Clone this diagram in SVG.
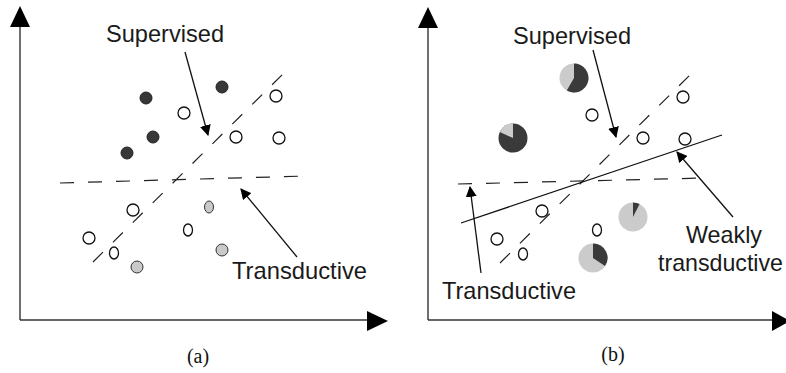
<svg xmlns="http://www.w3.org/2000/svg" width="786" height="373" viewBox="0 0 786 373">
<defs>
<style>
.axis{stroke:#333;stroke-width:1.4;fill:none}
.ah{fill:#000}
.dash{stroke:#222;stroke-width:1.2;fill:none;stroke-dasharray:14 14}
.solid{stroke:#111;stroke-width:1.3;fill:none}
.arr{stroke:#111;stroke-width:1.3;fill:none;marker-end:url(#tip)}
.open{fill:#fff;stroke:#111;stroke-width:1.3}
.dark{fill:#383838;stroke:#222;stroke-width:1}
.gray{fill:#c9c9c9;stroke:#333;stroke-width:1}
.pdark{fill:#3a3a3a}
.plight{fill:#cbcbcb}
.lbl{font-family:"Liberation Sans",Arial,sans-serif;font-size:24px;fill:#1a1a1a}
.cap{font-family:"Liberation Serif","Times New Roman",serif;font-size:20px;fill:#111;text-anchor:middle}
</style>
<marker id="tip" viewBox="0 0 10 10" refX="9" refY="5" markerWidth="11" markerHeight="11" markerUnits="userSpaceOnUse" orient="auto">
<path d="M0,0 L10,5 L0,10 Z" fill="#000"/>
</marker>
</defs>

<g id="panel-a">
<g id="axes-a">
<line class="axis" x1="20" y1="25" x2="20" y2="320"/>
<line class="axis" x1="20" y1="320" x2="368" y2="320"/>
<path class="ah" d="M20,6 L30,27 L10,27 Z"/>
<path class="ah" d="M388,321 L367,311 L367,331 Z"/>
</g>
<g id="connectors-a">
<line class="dash" x1="60" y1="183" x2="306" y2="176"/>
<line class="dash" x1="93" y1="262" x2="288" y2="69"/>
<line class="arr" x1="185" y1="52" x2="208" y2="135"/>
<line class="arr" x1="297" y1="257" x2="241" y2="189"/>
</g>
<g id="points-a">
<circle class="dark" cx="146" cy="98" r="6"/>
<circle class="dark" cx="222" cy="87" r="6"/>
<circle class="dark" cx="153" cy="137" r="6"/>
<circle class="dark" cx="127" cy="153" r="6"/>
<circle class="open" cx="184" cy="113" r="6"/>
<circle class="open" cx="276" cy="96" r="6"/>
<circle class="open" cx="236" cy="137" r="6"/>
<circle class="open" cx="279" cy="138" r="6"/>
<circle class="open" cx="133" cy="210" r="6"/>
<circle class="open" cx="89" cy="238" r="6"/>
<ellipse class="open" cx="114" cy="253" rx="4.5" ry="6"/>
<ellipse class="open" cx="188" cy="230" rx="4.5" ry="6"/>
<ellipse class="gray" cx="209" cy="207" rx="4.5" ry="6"/>
<circle class="gray" cx="222" cy="250" r="6"/>
<circle class="gray" cx="137" cy="267" r="6"/>
</g>
<g id="labels-a">
<text class="lbl" x="106" y="42" textLength="118" lengthAdjust="spacingAndGlyphs">Supervised</text>
<text class="lbl" x="232" y="279" textLength="135" lengthAdjust="spacingAndGlyphs">Transductive</text>
<text class="cap" x="198" y="363">(a)</text>
</g>
</g>

<g id="panel-b">
<g id="axes-b">
<line class="axis" x1="428" y1="25" x2="428" y2="320"/>
<line class="axis" x1="428" y1="320" x2="773" y2="320"/>
<path class="ah" d="M428,7 L438,28 L418,28 Z"/>
<path class="ah" d="M790,321 L772,311 L772,331 Z"/>
</g>
<g id="connectors-b">
<line class="dash" x1="458" y1="184" x2="704" y2="178"/>
<line class="dash" x1="500" y1="263" x2="693" y2="72"/>
<line class="solid" x1="461" y1="223" x2="722" y2="135"/>
<line class="arr" x1="593" y1="50" x2="616" y2="137"/>
<line class="arr" x1="481" y1="273" x2="470" y2="187"/>
<line class="arr" x1="733" y1="217" x2="677" y2="152"/>
</g>
<g id="points-b">
<g id="pie1">
<circle class="plight" cx="574" cy="78" r="14.5"/>
<path class="pdark" d="M574,78 L574,63.5 A14.5,14.5 0 1 1 566.75,90.56 Z"/>
</g>
<g id="pie2">
<circle class="pdark" cx="513" cy="138" r="14.5"/>
<path class="plight" d="M513,138 L499.75,132.1 A14.5,14.5 0 0 1 513,123.5 Z"/>
</g>
<g id="pie3">
<circle class="plight" cx="633" cy="217" r="14.5"/>
<path class="pdark" d="M633,217 L633,202.5 A14.5,14.5 0 0 1 639.58,204.08 Z"/>
</g>
<g id="pie4">
<circle class="plight" cx="593" cy="258" r="14.5"/>
<path class="pdark" d="M593,258 L593,243.5 A14.5,14.5 0 0 1 605.02,266.11 Z"/>
</g>
<circle class="open" cx="592" cy="115" r="6"/>
<circle class="open" cx="683" cy="97" r="6"/>
<circle class="open" cx="643" cy="138" r="6"/>
<circle class="open" cx="685" cy="139" r="6"/>
<circle class="open" cx="542" cy="211" r="6"/>
<circle class="open" cx="497" cy="239" r="6"/>
<ellipse class="open" cx="523" cy="254" rx="4.5" ry="6"/>
<ellipse class="open" cx="597" cy="230" rx="4.5" ry="6"/>
</g>
<g id="labels-b">
<text class="lbl" x="513" y="44" textLength="118" lengthAdjust="spacingAndGlyphs">Supervised</text>
<text class="lbl" x="442" y="299" textLength="134" lengthAdjust="spacingAndGlyphs">Transductive</text>
<text class="lbl" x="686" y="243" textLength="76" lengthAdjust="spacingAndGlyphs">Weakly</text>
<text class="lbl" x="658" y="271" textLength="125" lengthAdjust="spacingAndGlyphs">transductive</text>
<text class="cap" x="613" y="361">(b)</text>
</g>
</g>
</svg>
